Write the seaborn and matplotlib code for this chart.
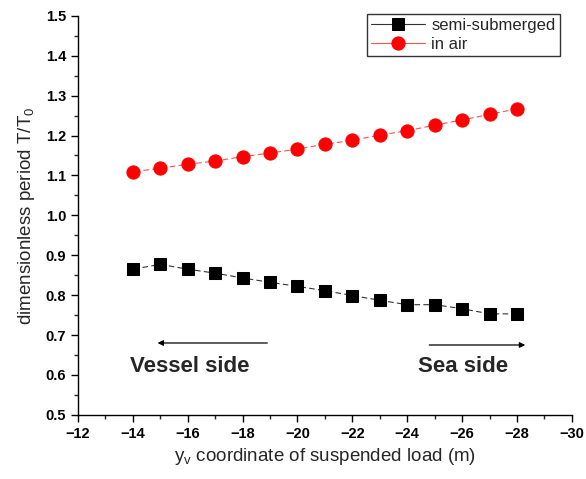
import matplotlib
matplotlib.use("Agg")
import matplotlib.pyplot as plt
import seaborn as sns
import pandas as pd
from matplotlib.ticker import MultipleLocator

y_coord = [-14, -15, -16, -17, -18, -19, -20, -21, -22, -23, -24, -25, -26, -27, -28]
semi_submerged = [0.865, 0.877, 0.865, 0.855, 0.843, 0.832, 0.822, 0.811, 0.799,
                  0.787, 0.776, 0.776, 0.766, 0.753, 0.753]
in_air = [1.109, 1.118, 1.128, 1.136, 1.147, 1.156, 1.166, 1.178, 1.188,
          1.201, 1.212, 1.226, 1.239, 1.253, 1.267]

sns.set_theme(style="ticks")
plt.rcParams['font.family'] = ['Liberation Sans', 'DejaVu Sans']

fig = plt.figure(figsize=(5.86, 4.79), dpi=100)
ax = fig.add_axes([0.133, 0.134, 0.843, 0.833])

df_s = pd.DataFrame({"y": y_coord, "T": semi_submerged})
df_a = pd.DataFrame({"y": y_coord, "T": in_air})

sns.lineplot(data=df_s, x="y", y="T", ax=ax, color="#333333", linestyle=(0, (5, 3)),
             linewidth=0.8, marker="s", markersize=8, markeredgecolor="black",
             markerfacecolor="black", label="semi-submerged")
sns.lineplot(data=df_a, x="y", y="T", ax=ax, color="#ff5050", linestyle=(0, (5, 3)),
             linewidth=0.8, marker="o", markersize=9.5, markeredgecolor="red",
             markerfacecolor="red", label="in air")

ax.set_xlim(-12, -30)
ax.set_ylim(0.5, 1.5)
ax.xaxis.set_minor_locator(MultipleLocator(1))
ax.yaxis.set_minor_locator(MultipleLocator(0.05))
ax.set_xticks(range(-12, -31, -2))
ax.set_xticklabels([f"\u2212{abs(v)}" for v in range(-12, -31, -2)])
ax.set_yticks([0.5 + 0.1 * i for i in range(11)])
ax.set_yticklabels([f"{0.5 + 0.1 * i:.1f}" for i in range(11)])
ax.tick_params(axis="both", which="major", direction="out", length=5, width=1,
               labelsize=10.5, colors="black")
ax.tick_params(axis="both", which="minor", direction="out", length=3, width=1)
for lbl in ax.get_xticklabels() + ax.get_yticklabels():
    lbl.set_fontweight("bold")

for side in ["top", "right"]:
    ax.spines[side].set_visible(False)
for side in ["left", "bottom"]:
    ax.spines[side].set_color("black")
    ax.spines[side].set_linewidth(1)

ax.set_xlabel("y$_\\mathregular{v}$ coordinate of suspended load (m)", fontsize=13.5, labelpad=4)
ax.set_ylabel("dimensionless period T/T$_\\mathregular{0}$", fontsize=13.5, labelpad=6)

ax.annotate("", xy=(-14.8, 0.68), xytext=(-19, 0.68),
            arrowprops=dict(arrowstyle="-|>", color="black", lw=0.9, mutation_scale=8))
ax.annotate("", xy=(-28.4, 0.675), xytext=(-24.7, 0.675),
            arrowprops=dict(arrowstyle="-|>", color="black", lw=0.9, mutation_scale=8))
ax.text(-13.9, 0.62, "Vessel side", fontsize=16, fontweight="bold", ha="left", va="center")
ax.text(-24.4, 0.62, "Sea side", fontsize=16, fontweight="bold", ha="left", va="center")

leg = ax.legend(loc="upper right", bbox_to_anchor=(0.975, 1.005), frameon=True,
                fancybox=False, fontsize=12, handlelength=3.2, borderpad=0.25,
                labelspacing=0.25, handletextpad=0.4, borderaxespad=0)
leg.get_frame().set_edgecolor("black")
leg.get_frame().set_linewidth(1)
for line in leg.get_lines():
    line.set_linestyle("-")

fig.savefig("out.png", dpi=100)
